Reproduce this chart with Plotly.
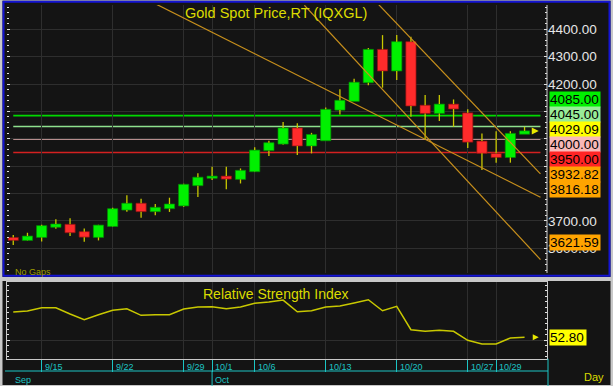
import plotly.graph_objects as go

# ---------------- data ----------------
dates = ["9/11", "9/12", "9/15", "9/16", "9/17", "9/18", "9/19", "9/22", "9/23", "9/24",
         "9/25", "9/26", "9/29", "9/30", "10/1", "10/2", "10/3", "10/6", "10/7", "10/8",
         "10/9", "10/10", "10/13", "10/14", "10/15", "10/16", "10/17", "10/20", "10/21",
         "10/22", "10/23", "10/24", "10/27", "10/28", "10/29", "10/30", "10/31"]
open_ = [3640, 3629, 3640, 3677, 3688, 3661, 3640, 3680, 3740, 3765, 3734, 3745, 3755, 3829,
         3856, 3864, 3852, 3880, 3957, 3981, 4040, 3974, 3993, 4105, 4137, 4205, 4327, 4248,
         4355, 4123, 4093, 4127, 4095, 3992, 3947, 3932, 4017]
high = [3649, 3657, 3686, 3706, 3710, 3673, 3686, 3748, 3794, 3781, 3762, 3785, 3836, 3874,
        3898, 3898, 3892, 3969, 3993, 4062, 4057, 4022, 4115, 4181, 4220, 4332, 4379, 4379,
        4373, 4160, 4160, 4144, 4108, 4020, 4028, 4028, 4044]
low = [3612, 3628, 3625, 3672, 3645, 3624, 3629, 3679, 3734, 3712, 3721, 3733, 3752, 3788,
       3850, 3816, 3837, 3879, 3937, 3979, 3941, 3947, 3993, 4089, 4137, 4196, 4187, 4215,
       4081, 3996, 4065, 4044, 3967, 3886, 3913, 3913, 4017]
close = [3629, 3645, 3683, 3689, 3657, 3641, 3685, 3745, 3765, 3734, 3750, 3762, 3834, 3860,
         3864, 3853, 3885, 3959, 3986, 4040, 3974, 4016, 4108, 4141, 4207, 4327, 4248, 4355,
         4120, 4093, 4127, 4109, 3988, 3947, 3932, 4020, 4029.09]
rsi = [75.7, 76.6, 79.6, 79.6, 73.9, 68.7, 73.3, 77.3, 78.7, 72.7, 73.3, 73.3, 78.5, 80.3,
       80.5, 78.7, 80.3, 83.6, 84.8, 86.6, 76.0, 76.9, 80.3, 81.2, 83.9, 86.9, 76.9, 80.9,
       59.6, 58.2, 59.1, 58.2, 50.0, 46.6, 46.6, 52.1, 52.8]

level_values = [4085.00, 4045.00, 4000.00, 3950.00]
last_price = 4029.09
rsi_last = 52.80
# trend lines: start anchor (bar index, price) and value at the last bar
trend_x0 = [10.1, 25.7, 20.5]
trend_y0 = [4491.0, 4492.0, 4488.0]
trend_end = [3816.18, 3932.82, 3621.59]

price_ticks = [3600, 3700, 3800, 3900, 4000, 4100, 4200, 4300, 4400]
axis_ticks = ["9/15", "9/22", "9/29", "10/1", "10/6", "10/13", "10/20", "10/27", "10/29"]
months = ["Sep", "Oct"]
month_first = ["9/11", "10/1"]

title = "Gold Spot Price,RT (IQXGL)"
rsi_title = "Relative Strength Index"

# ---------------- layout constants (pixels) ----------------
W, H = 613, 386
PL, PR = 7, 547
P_TOP, P_BOT = 5, 273
R_TOP, R_BOT = 282, 358.7
Y_RANGE = [3510, 4489]
R_RANGE = [33.3, 103.0]
X_RANGE = [-0.44, 37.58]
EXT = 1.12

BG = "#141414"
GRID = "#2e2e2e"
WICK = "#c8c800"
UP, DOWN = "#00f000", "#ff2b2b"
TREND = "#c8901c"
CYAN = "#1cc4c4"
YEL = "#dcdc00"
FONT = "Arial, 'Liberation Sans', sans-serif"

level_line_colors = ["#00d800", "#8ee08e", "#ecb6b6", "#d42020"]
level_box_colors = ["#00f000", "#98ec98", "#f8b8b8", "#ff2424"]
last_box_color = "#ffff00"
trend_box_color = "#ffa400"


def fx(p):
    return p / W


def fy(p):
    return 1 - p / H


n = len(dates)
idx = list(range(n))
tick_idx = [dates.index(t) for t in axis_ticks]
ppu = (P_BOT - P_TOP) / (Y_RANGE[1] - Y_RANGE[0])


def ypx(v):
    return P_TOP + (Y_RANGE[1] - v) * ppu


fig = go.Figure()

# wicks (split around the body so bodies stay clean)
wx, wy = [], []
for i in idx:
    top, bot = max(open_[i], close[i]), min(open_[i], close[i])
    if high[i] > top:
        wx += [i, i, None]
        wy += [top, high[i], None]
    if low[i] < bot:
        wx += [i, i, None]
        wy += [low[i], bot, None]
fig.add_trace(go.Scatter(x=wx, y=wy, mode="lines", line=dict(color=WICK, width=1.3),
                         xaxis="x", yaxis="y", hoverinfo="skip"))

# bodies
body_col = [UP if close[i] >= open_[i] else DOWN for i in idx]
edge_col = ["#009000" if close[i] >= open_[i] else "#901010" for i in idx]
fig.add_trace(go.Bar(x=idx, y=[abs(close[i] - open_[i]) for i in idx],
                     base=[min(open_[i], close[i]) for i in idx], width=0.72,
                     marker=dict(color=body_col, line=dict(color=edge_col, width=0.7)),
                     xaxis="x", yaxis="y", hoverinfo="skip"))

x_end = n - 1 + EXT
# trend lines
for x0, y0, ye in zip(trend_x0, trend_y0, trend_end):
    slope = (ye - y0) / ((n - 1) - x0)
    fig.add_trace(go.Scatter(x=[x0, x_end], y=[y0, y0 + slope * (x_end - x0)], mode="lines",
                             line=dict(color=TREND, width=1.2), xaxis="x", yaxis="y",
                             hoverinfo="skip"))

# last price marker
fig.add_trace(go.Scatter(x=[n - 1 + 1.0], y=[last_price], mode="markers",
                         marker=dict(symbol="arrow-right", size=7, color="#e8e800"),
                         xaxis="x", yaxis="y", hoverinfo="skip"))

# RSI
fig.add_trace(go.Scatter(x=idx, y=rsi, mode="lines", line=dict(color="#c8c800", width=1.5),
                         xaxis="x2", yaxis="y2", hoverinfo="skip"))
fig.add_trace(go.Scatter(x=[n - 1 + 1.0], y=[rsi_last], mode="markers",
                         marker=dict(symbol="arrow-right", size=6, color="#e8e800"),
                         xaxis="x2", yaxis="y2", hoverinfo="skip"))

shapes = []
# level lines
for v, c in zip(level_values, level_line_colors):
    shapes.append(dict(type="line", xref="x", yref="y", x0=0, x1=x_end, y0=v, y1=v,
                       line=dict(color=c, width=1.6), layer="below"))
# price axis line
shapes.append(dict(type="line", xref="paper", yref="paper", x0=fx(PR), x1=fx(PR),
                   y0=fy(P_TOP), y1=fy(P_BOT), line=dict(color="#d0d0d0", width=1)))
# frame
GRAY = "#c8c8c8"
for (a, b, c, d) in [(0, 0, 2.5, H), (610.5, 0, W, H), (0, 0, W, 0.8), (0, 277, W, 281),
                     (0, 385, W, H)]:
    shapes.append(dict(type="rect", xref="paper", yref="paper", x0=fx(a), x1=fx(c),
                       y0=fy(b), y1=fy(d), fillcolor=GRAY, line=dict(width=0)))
shapes.append(dict(type="rect", xref="paper", yref="paper", x0=fx(3.5), x1=fx(609.5),
                   y0=fy(1.8), y1=fy(275.7), line=dict(color="#1414d4", width=2)))
# date axis cyan lines
shapes.append(dict(type="line", xref="paper", yref="paper", x0=fx(5), x1=fx(PR + 1),
                   y0=fy(371), y1=fy(371), line=dict(color=CYAN, width=1)))
shapes.append(dict(type="line", xref="paper", yref="paper", x0=fx(PR + 1), x1=fx(PR + 1),
                   y0=fy(R_BOT), y1=fy(H), line=dict(color=CYAN, width=1)))
for m in month_first[1:]:
    shapes.append(dict(type="line", xref="x2", yref="paper", x0=dates.index(m),
                       x1=dates.index(m), y0=fy(371), y1=fy(H),
                       line=dict(color=CYAN, width=1)))

annotations = []


def txt(text, x, y, size, color, xanchor="center", xref="paper", xshift=0):
    annotations.append(dict(text=text, xref=xref, yref="paper", x=x, y=y, xanchor=xanchor,
                            yanchor="middle", xshift=xshift, showarrow=False,
                            font=dict(family=FONT, size=size, color=color)))


txt(title, fx(275.5), fy(13), 14.5, YEL)
txt(rsi_title, fx(275.5), fy(293.5), 14, YEL)
txt("No Gaps", fx(13), fy(272), 9, "#9c9c00", xanchor="left")
txt("Day", fx(593.5), fy(377), 11, YEL)

# date tick labels
for t, i in zip(axis_ticks, tick_idx):
    txt(t, i, fy(366.5), 9, CYAN, xanchor="left", xref="x2", xshift=1)
for m, f in zip(months, month_first):
    txt(m, dates.index(f), fy(379.5), 9, CYAN, xanchor="left", xref="x2",
        xshift=(1 if f != dates[0] else -0.5))

# right-side value boxes, decluttered
boxes = [(v, c) for v, c in zip(level_values, level_box_colors)]
boxes.append((last_price, last_box_color))
boxes += [(v, trend_box_color) for v in trend_end]
boxes.sort(key=lambda b: -b[0])
desired = [ypx(v) for v, _ in boxes]
BH = 15.0
groups = []
for k, d in enumerate(desired):
    groups.append([[k], d])
    while len(groups) > 1:
        g1, g2 = groups[-2], groups[-1]
        bottom1 = g1[1] + len(g1[0]) * BH / 2
        top2 = g2[1] - len(g2[0]) * BH / 2
        if top2 < bottom1:
            mem = g1[0] + g2[0]
            groups[-2:] = [[mem, sum(desired[m] for m in mem) / len(mem)]]
        else:
            break
placed = [0.0] * len(boxes)
spans = []
for mem, cen in groups:
    top = cen - len(mem) * BH / 2
    spans.append((top + 2, top + len(mem) * BH - 2))
    for j, m in enumerate(mem):
        placed[m] = top + BH / 2 + j * BH
for (v, c), d, p in zip(boxes, desired, placed):
    annotations.append(dict(text=f"{v:.2f}", xref="paper", yref="y", x=fx(PR + 2.3), y=v,
                            yshift=d - p, xanchor="left", yanchor="middle", width=50,
                            height=BH, align="left", bgcolor=c, borderpad=0,
                            showarrow=False, font=dict(family=FONT, size=13.5, color="#000")))
annotations.append(dict(text=f"{rsi_last:.2f}", xref="paper", yref="y2", x=fx(PR + 2.3),
                        y=rsi_last, xanchor="left", yanchor="middle", width=36, height=BH,
                        align="left", bgcolor="#ffff00", borderpad=0, showarrow=False,
                        font=dict(family=FONT, size=13.5, color="#000")))

# price tick labels hidden where the value boxes cover them
price_text = ["" if any(a < ypx(t) < b for a, b in spans) else f"{t:.2f}"
              for t in price_ticks]

fig.update_layout(
    width=W, height=H, margin=dict(l=0, r=0, t=0, b=0, pad=0),
    paper_bgcolor=BG, plot_bgcolor=BG, showlegend=False, bargap=0,
    font=dict(family=FONT), hovermode=False,
    xaxis=dict(domain=[fx(PL), fx(PR)], range=X_RANGE, tickvals=tick_idx,
               showticklabels=False, showgrid=True, gridcolor=GRID, zeroline=False,
               ticks="", anchor="y", automargin=False),
    yaxis=dict(domain=[fy(P_BOT), fy(P_TOP)], range=Y_RANGE, side="right",
               tickvals=price_ticks, ticktext=price_text,
               showgrid=True, gridcolor=GRID, zeroline=False,
               ticks="inside", ticklen=3, tickcolor="#e0e0e0", mirror="ticks",
               showline=False, anchor="x", automargin=False,
               tickfont=dict(family=FONT, size=13.5, color="#e6e6e6"),
               minor=dict(dtick=20, tick0=0, ticklen=2, tickcolor="#e0e0e0",
                          ticks="inside", showgrid=False)),
    xaxis2=dict(domain=[fx(PL), fx(PR)], range=X_RANGE, tickvals=tick_idx,
                showticklabels=False, showgrid=True, gridcolor=GRID, zeroline=False,
                ticks="outside", ticklen=12, tickcolor=CYAN, showline=True,
                linecolor="#c8c8c8", mirror=True, anchor="y2", automargin=False),
    yaxis2=dict(domain=[fy(R_BOT), fy(R_TOP)], range=R_RANGE, side="right", tickvals=[50],
                showticklabels=False, showgrid=True, gridcolor=GRID, zeroline=False,
                ticks="inside", ticklen=3, tickcolor="#e0e0e0", mirror="ticks",
                showline=True, linecolor="#c8c8c8", anchor="x2", automargin=False,
                minor=dict(dtick=5, tick0=0, ticklen=2, tickcolor="#e0e0e0",
                           ticks="inside", showgrid=False)),
    shapes=shapes, annotations=annotations,
)

fig.write_html("out.html",
               config={"displayModeBar": False, "staticPlot": True},
               post_script="document.body.style.margin='0';"
                           "document.body.style.overflow='hidden';")
